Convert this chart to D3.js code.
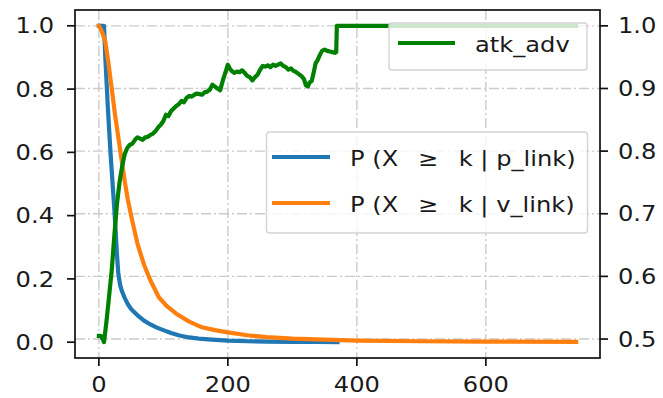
<!DOCTYPE html>
<html><head><meta charset="utf-8">
<script src="https://cdn.jsdelivr.net/npm/d3@7"></script>
<style>body{margin:0;background:#fff}svg{display:block}text{font-family:"DejaVu Sans",sans-serif;fill:#1a1a1a}</style>
</head><body>
<svg id="c" width="663" height="398"></svg>
<script>
const xTicks=[0,200,400,600];
const leftTicks=[0.0,0.2,0.4,0.6,0.8,1.0];
const rightTicks=[0.5,0.6,0.7,0.8,0.9,1.0];

const blueK=[0,8,10,12,14,16,18,20,22,24,26,28,30,33,36,40,45,50,55,60,70,80,90,100,112,125,140,155,175,200,230,260,300,340,370];
const blueV=[1,1,0.9,0.82,0.74,0.67,0.6,0.54,0.48,0.42,0.35,0.28,0.22,0.18,0.16,0.14,0.12,0.105,0.095,0.085,0.068,0.056,0.046,0.038,0.029,0.021,0.015,0.011,0.008,0.005,0.003,0.002,0.001,0.0005,0.0];

const orangeK=[0,3,6,10,15,20,25,30,35,40,45,50,55,60,70,80,93,105,120,140,160,180,200,230,260,300,350,400,500,600,740];
const orangeV=[1.0,0.99,0.975,0.95,0.88,0.80,0.72,0.65,0.58,0.51,0.45,0.40,0.355,0.31,0.245,0.195,0.142,0.115,0.09,0.065,0.047,0.038,0.031,0.022,0.016,0.011,0.008,0.005,0.003,0.002,0.001];

const greenK=[0,3,6,8,12,16,20,24,28,32,36,40,44,48,52,56,60,64,68,72,76,80,84,88,92,96,100,104,108,112,116,120,124,128,132,136,140,144,148,152,156,160,164,168,172,176,180,184,188,192,196,200,203,206,210,214,218,222,226,230,234,238,242,246,250,254,258,262,266,270,274,278,282,286,290,294,298,302,306,310,314,318,321,324,327,330,333,336,339,342,346,350,354,358,362,366,368,369,740];
const greenV=[0.505,0.505,0.500,0.495,0.530,0.570,0.610,0.665,0.715,0.750,0.775,0.795,0.805,0.810,0.812,0.818,0.822,0.820,0.818,0.822,0.823,0.826,0.828,0.832,0.838,0.842,0.848,0.858,0.856,0.864,0.868,0.872,0.875,0.880,0.878,0.885,0.888,0.887,0.890,0.892,0.891,0.890,0.894,0.895,0.898,0.906,0.903,0.900,0.897,0.912,0.925,0.938,0.932,0.928,0.925,0.927,0.926,0.929,0.925,0.920,0.918,0.913,0.918,0.922,0.930,0.936,0.935,0.937,0.934,0.938,0.936,0.938,0.940,0.936,0.934,0.930,0.932,0.928,0.926,0.923,0.920,0.915,0.905,0.903,0.910,0.912,0.925,0.940,0.945,0.952,0.960,0.962,0.960,0.959,0.958,0.957,0.958,1.0,1.0];

const legendTop=["atk_adv"];
const legendMid=["P (X \u2009 \u2265 \u2009 k | p_link)","P (X \u2009 \u2265 \u2009 k | v_link)"];

const L=75,R=600,T=10,B=358;
const FS=21, SX=1.15, LW=4.2;
const svg=d3.select("#c");
svg.append("rect").attr("width",663).attr("height",398).attr("fill","#fff");

const x=d3.scaleLinear().domain([-37,777]).range([L,R]);
const yL=d3.scaleLinear().domain([-0.05,1.05]).range([B,T]);
const yR=d3.scaleLinear().domain([0.4697,1.0253]).range([B,T]);

const grid=svg.append("g").attr("stroke","#cbcbcb").attr("stroke-width",1.4).attr("stroke-dasharray","10,3,2,3");
xTicks.forEach(t=>grid.append("line").attr("x1",x(t)).attr("x2",x(t)).attr("y1",T).attr("y2",B));
rightTicks.forEach(t=>grid.append("line").attr("x1",L).attr("x2",R).attr("y1",yR(t)).attr("y2",yR(t)));

function draw(K,V,y,color){
  const line=d3.line().x(d=>x(d[0])).y(d=>y(d[1]));
  svg.append("path").datum(K.map((k,i)=>[k,V[i]])).attr("d",line)
    .attr("fill","none").attr("stroke",color).attr("stroke-width",LW)
    .attr("stroke-linejoin","round").attr("stroke-linecap","square");
}
draw(blueK,blueV,yL,"#1f77b4");
draw(orangeK,orangeV,yL,"#ff7f0e");
draw(greenK,greenV,yR,"#008000");

// frame
svg.append("rect").attr("x",L).attr("y",T).attr("width",R-L).attr("height",B-T)
  .attr("fill","none").attr("stroke","#111").attr("stroke-width",1.7);

function txt(xp,yp,s,anchor){
  svg.append("text").attr("transform",`translate(${xp},${yp}) scale(${SX},1)`)
    .attr("text-anchor",anchor).attr("font-size",FS).style("white-space","pre").text(s);
}
const tk=svg.append("g").attr("stroke","#111").attr("stroke-width",1.7);
xTicks.forEach(t=>{tk.append("line").attr("x1",x(t)).attr("x2",x(t)).attr("y1",B).attr("y2",B+8);
  txt(x(t),392,String(t),"middle");});
leftTicks.forEach(t=>{tk.append("line").attr("x1",L-8).attr("x2",L).attr("y1",yL(t)).attr("y2",yL(t));
  txt(54,yL(t)+7.6,t.toFixed(1),"end");});
rightTicks.forEach(t=>{tk.append("line").attr("x1",R).attr("x2",R+8).attr("y1",yR(t)).attr("y2",yR(t));
  txt(618,yR(t)+7.6,t.toFixed(1),"start");});

// legends
function legendBox(x0,y0,w,h){
  svg.append("rect").attr("x",x0).attr("y",y0).attr("width",w).attr("height",h).attr("rx",3)
    .attr("fill","#fff").attr("fill-opacity",0.8).attr("stroke","#d4d4d4").attr("stroke-width",1.4);
}
legendBox(266.5,132,321,101);
[["#1f77b4",157],["#ff7f0e",203]].forEach((c,i)=>{
  svg.append("line").attr("x1",272).attr("x2",330).attr("y1",c[1]).attr("y2",c[1]).attr("stroke",c[0]).attr("stroke-width",LW);
  txt(350,c[1]+8.5,legendMid[i],"start");
});
legendBox(389,23,198,47);
svg.append("line").attr("x1",398).attr("x2",455).attr("y1",43).attr("y2",43).attr("stroke","#008000").attr("stroke-width",LW);
txt(475,51.5,legendTop[0],"start");
</script>
</body></html>
